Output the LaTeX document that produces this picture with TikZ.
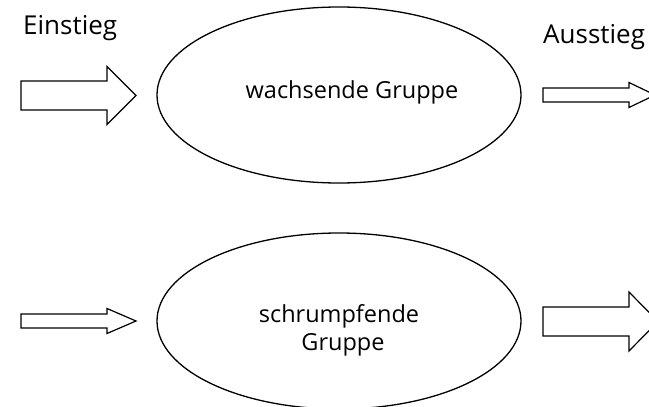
\documentclass[tikz,border=0pt]{standalone}
\usepackage{fontspec}
\setmainfont{Open Sans}
\usetikzlibrary{shapes.geometric}
% block arrow: start x, centre y, shaft half-height, head base x, head half-height, tip x
\newcommand{\blockarrow}[6]{%
  \draw[blockline] (#1,#2-#3) -- (#4,#2-#3) -- (#4,#2-#5) -- (#6,#2)
    -- (#4,#2+#5) -- (#4,#2+#3) -- (#1,#2+#3) -- cycle;}
\begin{document}
\begin{tikzpicture}[x=1pt,y=-1pt,
  blockline/.style={line width=1.2pt, line join=miter, fill=white},
  group/.style={ellipse, draw, line width=1.3pt, minimum width=364pt, minimum height=176pt, inner sep=0pt},
  grouptext/.style={anchor=base, inner sep=0pt, font=\fontsize{23.5}{28}\selectfont},
  flowlabel/.style={anchor=base west, inner sep=0pt, font=\fontsize{26}{30}\selectfont}]
\useasboundingbox (0,0) rectangle (649,407);
\fill[white] (0,0) rectangle (649,407);
\begin{scope}
\clip (0,0) rectangle (649,407);
% the two groups
\node[group] (grow) at (339,95) {};
\node[group] (shrink) at (339,321) {};
\node[grouptext] (growtxt) at (352,98) {wachsende Gruppe};
\node[grouptext] (shrinktxt1) at (339,322) {schrumpfende};
\node[grouptext] (shrinktxt2) at (343,350) {Gruppe};
% inflow and outflow arrows
\blockarrow{21}{95.5}{14.5}{107}{29}{136}
\blockarrow{543}{95}{7}{629}{12.5}{655}
\blockarrow{21}{321}{7}{107}{12.5}{136}
\blockarrow{543}{321.5}{14.5}{629}{29.5}{658}
\end{scope}
\node[flowlabel] (in) at (23,34) {Einstieg};
\node[flowlabel] (out) at (543,43) {Ausstieg};
\end{tikzpicture}
\end{document}
